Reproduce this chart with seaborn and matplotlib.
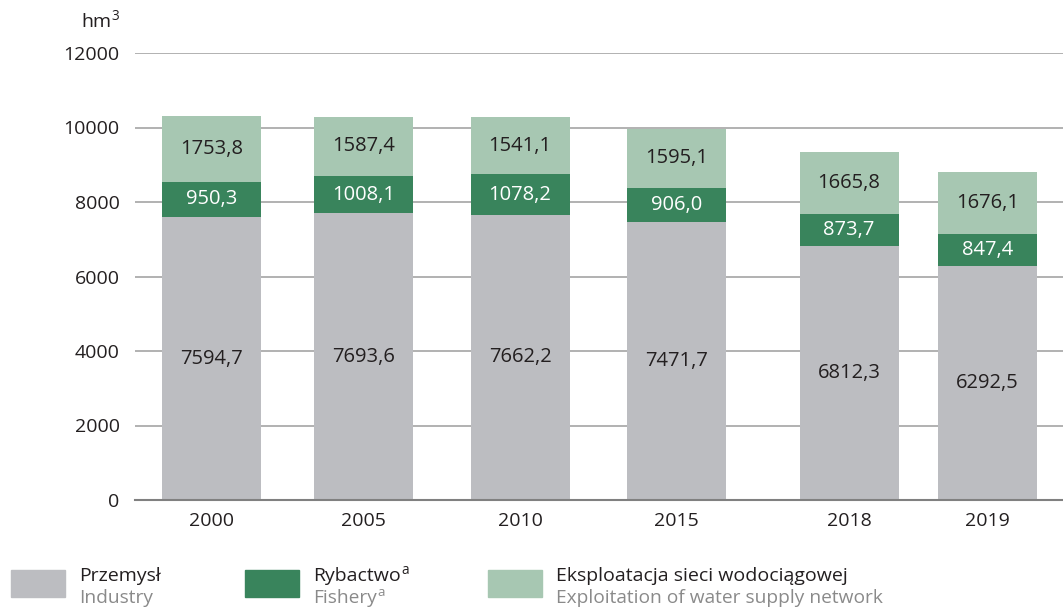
import matplotlib
matplotlib.use("Agg")
import matplotlib.pyplot as plt
import seaborn as sns
import pandas as pd
import numpy as np
from matplotlib.patches import Rectangle

# ---- data ----
years = ["2000", "2005", "2010", "2015", "2018", "2019"]
industry = [7594.7, 7693.6, 7662.2, 7471.7, 6812.3, 6292.5]
fishery = [950.3, 1008.1, 1078.2, 906.0, 873.7, 847.4]
water_network = [1753.8, 1587.4, 1541.1, 1595.1, 1665.8, 1676.1]
yticks = [0, 2000, 4000, 6000, 8000, 10000, 12000]

# ---- layout (slot centres along the axis, in px of the figure) ----
slot_pos = [211.5, 363.5, 520.0, 676.5, 849.0, 987.5]
bar_px = 99

C_IND = "#BCBDC1"
C_FISH = "#39845C"
C_NET = "#A7C7B2"
TXT = "#231F20"

sns.set_theme(style="white")
plt.rcParams["font.family"] = ["Open Sans", "DejaVu Sans"]
plt.rcParams["mathtext.fontset"] = "custom"
plt.rcParams["mathtext.rm"] = "Open Sans"

W, H = 1063, 608
fig = plt.figure(figsize=(W / 100, H / 100), dpi=100)
ax = fig.add_axes([135 / W, (H - 500) / H, 1 - 135 / W, (500 - 53) / H])

ind = np.array(industry)
fis = np.array(fishery)
net = np.array(water_network)
df = pd.DataFrame({
    "pos": slot_pos,
    "total": ind + fis + net,
    "mid": ind + fis,
    "ind": ind,
})
min_gap = np.min(np.diff(sorted(slot_pos)))
wid = bar_px / min_gap

ax.set_axisbelow(True)
for col, c in [("total", C_NET), ("mid", C_FISH), ("ind", C_IND)]:
    sns.barplot(data=df, x="pos", y=col, native_scale=True, color=c,
                saturation=1, width=wid, errorbar=None, linewidth=0, ax=ax,
                zorder=2)

ax.set_xlim(135, W)
ax.set_ylim(0, 12000)
ax.set_yticks(yticks)
ax.set_yticklabels([str(v) for v in yticks])
ax.set_xticks(slot_pos)
ax.set_xticklabels(years)
ax.set_xlabel("")
ax.set_ylabel("")
ax.grid(axis="y", color="#ABABAB", linewidth=1.3, zorder=0)
for s in ["top", "right", "left"]:
    ax.spines[s].set_visible(False)
ax.spines["bottom"].set_color("#808080")
ax.spines["bottom"].set_linewidth(1.5)
ax.spines["bottom"].set_zorder(3)
ax.tick_params(axis="y", length=0, pad=11, labelsize=14, labelcolor=TXT)
ax.tick_params(axis="x", length=0, pad=9, labelsize=14, labelcolor=TXT)

def fmt(v):
    return f"{v:.1f}".replace(".", ",")

FS = 14.5
for i, p in enumerate(slot_pos):
    ax.text(p, ind[i] / 2, fmt(ind[i]), ha="center", va="center",
            fontsize=FS, color=TXT, zorder=4)
    ax.text(p, ind[i] + fis[i] / 2, fmt(fis[i]), ha="center", va="center",
            fontsize=FS, color="white", zorder=4)
    ax.text(p, ind[i] + fis[i] + net[i] / 2, fmt(net[i]), ha="center",
            va="center", fontsize=FS, color=TXT, zorder=4)

fig.text(120 / W, 1 - 21 / H, r"hm$^\mathregular{3}$", ha="right", va="center",
         fontsize=14, color=TXT)

# ---- legend ----
renderer = fig.canvas.get_renderer()

def text_with_sup(x, y, s, sup, fs, color):
    t = fig.text(x, y, s, ha="left", va="baseline", fontsize=fs, color=color)
    if sup:
        bb = t.get_window_extent(renderer=renderer)
        fig.text(bb.x1 / W + 1 / W, y + 7 / H, sup, ha="left", va="baseline",
                 fontsize=fs * 0.7, color=color)

leg = [
    (11, "Przemysł", "", "Industry", ""),
    (245, "Rybactwo", "a", "Fishery", "a"),
    (488, "Eksploatacja sieci wodociągowej", "",
     "Exploitation of water supply network", ""),
]
cols = [C_IND, C_FISH, C_NET]
for (x0, t1, s1, t2, s2), c in zip(leg, cols):
    fig.patches.append(Rectangle((x0 / W, 1 - 597 / H), 54 / W, 27 / H,
                                 transform=fig.transFigure, color=c))
    text_with_sup((x0 + 68) / W, 1 - 581 / H, t1, s1, 14, TXT)
    text_with_sup((x0 + 68) / W, 1 - 603 / H, t2, s2, 13.8, "#8A8A8A")

fig.savefig("out.png", dpi=100)
